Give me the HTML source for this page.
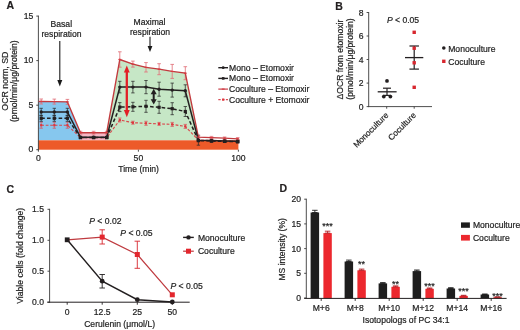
<!DOCTYPE html>
<html><head><meta charset="utf-8"><style>
html,body{margin:0;padding:0;background:#fff;}
svg{display:block;font-family:"Liberation Sans", sans-serif;will-change:transform;}
text{stroke:#222;stroke-width:0.2px;}
</style></head><body>
<svg width="520" height="330" viewBox="0 0 520 330">
<rect width="520" height="330" fill="#fff"/>
<text x="6.50" y="9.40" font-size="10.5" text-anchor="start" fill="#231f20" font-weight="bold">A</text>
<polygon points="38.40,101.50 41.20,101.50 54.30,101.60 67.40,101.90 80.50,132.70 80.50,140.30 38.40,140.30" fill="#86c7ee" />
<polygon points="80.50,132.70 93.60,132.70 106.70,132.70 106.70,140.30 80.50,140.30" fill="#f4b6c4" />
<polygon points="106.70,132.70 119.80,59.50 132.90,64.10 146.00,67.30 159.10,69.20 172.20,71.40 185.30,73.20 198.40,137.10 198.40,140.30 106.70,140.30" fill="#c6e7c6" />
<rect x="38.40" y="140.30" width="200.00" height="9.40" fill="#ed5a29"/>
<line x1="38.40" y1="15.60" x2="38.40" y2="150.20" stroke="#3a3a3a" stroke-width="0.9" />
<line x1="36.30" y1="16.10" x2="38.40" y2="16.10" stroke="#3a3a3a" stroke-width="0.9" />
<text x="33.20" y="18.70" font-size="8.6" text-anchor="end" fill="#222222" >15</text>
<line x1="36.30" y1="60.60" x2="38.40" y2="60.60" stroke="#3a3a3a" stroke-width="0.9" />
<text x="33.20" y="63.20" font-size="8.6" text-anchor="end" fill="#222222" >10</text>
<line x1="36.30" y1="105.20" x2="38.40" y2="105.20" stroke="#3a3a3a" stroke-width="0.9" />
<text x="33.20" y="107.80" font-size="8.6" text-anchor="end" fill="#222222" >5</text>
<line x1="36.30" y1="149.70" x2="38.40" y2="149.70" stroke="#3a3a3a" stroke-width="0.9" />
<text x="33.20" y="152.30" font-size="8.6" text-anchor="end" fill="#222222" >0</text>
<line x1="38.40" y1="149.70" x2="38.40" y2="151.70" stroke="#3a3a3a" stroke-width="0.9" />
<text x="38.40" y="160.60" font-size="8.6" text-anchor="middle" fill="#222222" >0</text>
<line x1="138.40" y1="149.70" x2="138.40" y2="151.70" stroke="#3a3a3a" stroke-width="0.9" />
<text x="138.40" y="160.60" font-size="8.6" text-anchor="middle" fill="#222222" >50</text>
<line x1="238.40" y1="149.70" x2="238.40" y2="151.70" stroke="#3a3a3a" stroke-width="0.9" />
<text x="238.40" y="160.60" font-size="8.6" text-anchor="middle" fill="#222222" >100</text>
<text x="138.60" y="172.40" font-size="8.6" text-anchor="middle" fill="#222222" >Time (min)</text>
<text transform="translate(7.5,81.1) rotate(-90)" font-size="8.8" text-anchor="middle" fill="#222222">OCR norm, SD</text>
<text transform="translate(17.3,81.2) rotate(-90)" font-size="8.65" text-anchor="middle" fill="#222222">(pmol/min/μg/protein)</text>
<line x1="41.20" y1="122.20" x2="41.20" y2="128.20" stroke="#d9545c" stroke-width="0.75" />
<line x1="39.50" y1="122.20" x2="42.90" y2="122.20" stroke="#d9545c" stroke-width="0.75" />
<line x1="39.50" y1="128.20" x2="42.90" y2="128.20" stroke="#d9545c" stroke-width="0.75" />
<line x1="54.30" y1="122.20" x2="54.30" y2="128.20" stroke="#d9545c" stroke-width="0.75" />
<line x1="52.60" y1="122.20" x2="56.00" y2="122.20" stroke="#d9545c" stroke-width="0.75" />
<line x1="52.60" y1="128.20" x2="56.00" y2="128.20" stroke="#d9545c" stroke-width="0.75" />
<line x1="67.40" y1="122.20" x2="67.40" y2="128.20" stroke="#d9545c" stroke-width="0.75" />
<line x1="65.70" y1="122.20" x2="69.10" y2="122.20" stroke="#d9545c" stroke-width="0.75" />
<line x1="65.70" y1="128.20" x2="69.10" y2="128.20" stroke="#d9545c" stroke-width="0.75" />
<line x1="80.50" y1="136.60" x2="80.50" y2="138.60" stroke="#d9545c" stroke-width="0.75" />
<line x1="78.80" y1="136.60" x2="82.20" y2="136.60" stroke="#d9545c" stroke-width="0.75" />
<line x1="78.80" y1="138.60" x2="82.20" y2="138.60" stroke="#d9545c" stroke-width="0.75" />
<line x1="93.60" y1="136.60" x2="93.60" y2="138.60" stroke="#d9545c" stroke-width="0.75" />
<line x1="91.90" y1="136.60" x2="95.30" y2="136.60" stroke="#d9545c" stroke-width="0.75" />
<line x1="91.90" y1="138.60" x2="95.30" y2="138.60" stroke="#d9545c" stroke-width="0.75" />
<line x1="106.70" y1="136.60" x2="106.70" y2="138.60" stroke="#d9545c" stroke-width="0.75" />
<line x1="105.00" y1="136.60" x2="108.40" y2="136.60" stroke="#d9545c" stroke-width="0.75" />
<line x1="105.00" y1="138.60" x2="108.40" y2="138.60" stroke="#d9545c" stroke-width="0.75" />
<line x1="119.80" y1="118.00" x2="119.80" y2="122.00" stroke="#d9545c" stroke-width="0.75" />
<line x1="118.10" y1="118.00" x2="121.50" y2="118.00" stroke="#d9545c" stroke-width="0.75" />
<line x1="118.10" y1="122.00" x2="121.50" y2="122.00" stroke="#d9545c" stroke-width="0.75" />
<line x1="132.90" y1="121.20" x2="132.90" y2="124.20" stroke="#d9545c" stroke-width="0.75" />
<line x1="131.20" y1="121.20" x2="134.60" y2="121.20" stroke="#d9545c" stroke-width="0.75" />
<line x1="131.20" y1="124.20" x2="134.60" y2="124.20" stroke="#d9545c" stroke-width="0.75" />
<line x1="146.00" y1="121.30" x2="146.00" y2="125.30" stroke="#d9545c" stroke-width="0.75" />
<line x1="144.30" y1="121.30" x2="147.70" y2="121.30" stroke="#d9545c" stroke-width="0.75" />
<line x1="144.30" y1="125.30" x2="147.70" y2="125.30" stroke="#d9545c" stroke-width="0.75" />
<line x1="159.10" y1="122.40" x2="159.10" y2="125.40" stroke="#d9545c" stroke-width="0.75" />
<line x1="157.40" y1="122.40" x2="160.80" y2="122.40" stroke="#d9545c" stroke-width="0.75" />
<line x1="157.40" y1="125.40" x2="160.80" y2="125.40" stroke="#d9545c" stroke-width="0.75" />
<line x1="172.20" y1="122.40" x2="172.20" y2="126.40" stroke="#d9545c" stroke-width="0.75" />
<line x1="170.50" y1="122.40" x2="173.90" y2="122.40" stroke="#d9545c" stroke-width="0.75" />
<line x1="170.50" y1="126.40" x2="173.90" y2="126.40" stroke="#d9545c" stroke-width="0.75" />
<line x1="185.30" y1="124.40" x2="185.30" y2="128.40" stroke="#d9545c" stroke-width="0.75" />
<line x1="183.60" y1="124.40" x2="187.00" y2="124.40" stroke="#d9545c" stroke-width="0.75" />
<line x1="183.60" y1="128.40" x2="187.00" y2="128.40" stroke="#d9545c" stroke-width="0.75" />
<line x1="198.40" y1="139.00" x2="198.40" y2="141.00" stroke="#d9545c" stroke-width="0.75" />
<line x1="196.70" y1="139.00" x2="200.10" y2="139.00" stroke="#d9545c" stroke-width="0.75" />
<line x1="196.70" y1="141.00" x2="200.10" y2="141.00" stroke="#d9545c" stroke-width="0.75" />
<line x1="211.50" y1="139.50" x2="211.50" y2="141.50" stroke="#d9545c" stroke-width="0.75" />
<line x1="209.80" y1="139.50" x2="213.20" y2="139.50" stroke="#d9545c" stroke-width="0.75" />
<line x1="209.80" y1="141.50" x2="213.20" y2="141.50" stroke="#d9545c" stroke-width="0.75" />
<line x1="224.60" y1="140.00" x2="224.60" y2="142.00" stroke="#d9545c" stroke-width="0.75" />
<line x1="222.90" y1="140.00" x2="226.30" y2="140.00" stroke="#d9545c" stroke-width="0.75" />
<line x1="222.90" y1="142.00" x2="226.30" y2="142.00" stroke="#d9545c" stroke-width="0.75" />
<line x1="237.70" y1="140.30" x2="237.70" y2="142.30" stroke="#d9545c" stroke-width="0.75" />
<line x1="236.00" y1="140.30" x2="239.40" y2="140.30" stroke="#d9545c" stroke-width="0.75" />
<line x1="236.00" y1="142.30" x2="239.40" y2="142.30" stroke="#d9545c" stroke-width="0.75" />
<line x1="41.20" y1="115.30" x2="41.20" y2="121.30" stroke="#2a2a2a" stroke-width="0.75" />
<line x1="39.50" y1="115.30" x2="42.90" y2="115.30" stroke="#2a2a2a" stroke-width="0.75" />
<line x1="39.50" y1="121.30" x2="42.90" y2="121.30" stroke="#2a2a2a" stroke-width="0.75" />
<line x1="54.30" y1="115.30" x2="54.30" y2="121.30" stroke="#2a2a2a" stroke-width="0.75" />
<line x1="52.60" y1="115.30" x2="56.00" y2="115.30" stroke="#2a2a2a" stroke-width="0.75" />
<line x1="52.60" y1="121.30" x2="56.00" y2="121.30" stroke="#2a2a2a" stroke-width="0.75" />
<line x1="67.40" y1="115.30" x2="67.40" y2="121.30" stroke="#2a2a2a" stroke-width="0.75" />
<line x1="65.70" y1="115.30" x2="69.10" y2="115.30" stroke="#2a2a2a" stroke-width="0.75" />
<line x1="65.70" y1="121.30" x2="69.10" y2="121.30" stroke="#2a2a2a" stroke-width="0.75" />
<line x1="80.50" y1="136.60" x2="80.50" y2="138.60" stroke="#2a2a2a" stroke-width="0.75" />
<line x1="78.80" y1="136.60" x2="82.20" y2="136.60" stroke="#2a2a2a" stroke-width="0.75" />
<line x1="78.80" y1="138.60" x2="82.20" y2="138.60" stroke="#2a2a2a" stroke-width="0.75" />
<line x1="93.60" y1="136.60" x2="93.60" y2="138.60" stroke="#2a2a2a" stroke-width="0.75" />
<line x1="91.90" y1="136.60" x2="95.30" y2="136.60" stroke="#2a2a2a" stroke-width="0.75" />
<line x1="91.90" y1="138.60" x2="95.30" y2="138.60" stroke="#2a2a2a" stroke-width="0.75" />
<line x1="106.70" y1="136.60" x2="106.70" y2="138.60" stroke="#2a2a2a" stroke-width="0.75" />
<line x1="105.00" y1="136.60" x2="108.40" y2="136.60" stroke="#2a2a2a" stroke-width="0.75" />
<line x1="105.00" y1="138.60" x2="108.40" y2="138.60" stroke="#2a2a2a" stroke-width="0.75" />
<line x1="119.80" y1="102.60" x2="119.80" y2="111.60" stroke="#2a2a2a" stroke-width="0.75" />
<line x1="118.10" y1="102.60" x2="121.50" y2="102.60" stroke="#2a2a2a" stroke-width="0.75" />
<line x1="118.10" y1="111.60" x2="121.50" y2="111.60" stroke="#2a2a2a" stroke-width="0.75" />
<line x1="132.90" y1="102.30" x2="132.90" y2="111.30" stroke="#2a2a2a" stroke-width="0.75" />
<line x1="131.20" y1="102.30" x2="134.60" y2="102.30" stroke="#2a2a2a" stroke-width="0.75" />
<line x1="131.20" y1="111.30" x2="134.60" y2="111.30" stroke="#2a2a2a" stroke-width="0.75" />
<line x1="146.00" y1="100.30" x2="146.00" y2="112.30" stroke="#2a2a2a" stroke-width="0.75" />
<line x1="144.30" y1="100.30" x2="147.70" y2="100.30" stroke="#2a2a2a" stroke-width="0.75" />
<line x1="144.30" y1="112.30" x2="147.70" y2="112.30" stroke="#2a2a2a" stroke-width="0.75" />
<line x1="159.10" y1="101.30" x2="159.10" y2="113.30" stroke="#2a2a2a" stroke-width="0.75" />
<line x1="157.40" y1="101.30" x2="160.80" y2="101.30" stroke="#2a2a2a" stroke-width="0.75" />
<line x1="157.40" y1="113.30" x2="160.80" y2="113.30" stroke="#2a2a2a" stroke-width="0.75" />
<line x1="172.20" y1="102.70" x2="172.20" y2="114.70" stroke="#2a2a2a" stroke-width="0.75" />
<line x1="170.50" y1="102.70" x2="173.90" y2="102.70" stroke="#2a2a2a" stroke-width="0.75" />
<line x1="170.50" y1="114.70" x2="173.90" y2="114.70" stroke="#2a2a2a" stroke-width="0.75" />
<line x1="185.30" y1="106.50" x2="185.30" y2="116.50" stroke="#2a2a2a" stroke-width="0.75" />
<line x1="183.60" y1="106.50" x2="187.00" y2="106.50" stroke="#2a2a2a" stroke-width="0.75" />
<line x1="183.60" y1="116.50" x2="187.00" y2="116.50" stroke="#2a2a2a" stroke-width="0.75" />
<line x1="198.40" y1="139.60" x2="198.40" y2="141.60" stroke="#2a2a2a" stroke-width="0.75" />
<line x1="196.70" y1="139.60" x2="200.10" y2="139.60" stroke="#2a2a2a" stroke-width="0.75" />
<line x1="196.70" y1="141.60" x2="200.10" y2="141.60" stroke="#2a2a2a" stroke-width="0.75" />
<line x1="211.50" y1="140.00" x2="211.50" y2="142.00" stroke="#2a2a2a" stroke-width="0.75" />
<line x1="209.80" y1="140.00" x2="213.20" y2="140.00" stroke="#2a2a2a" stroke-width="0.75" />
<line x1="209.80" y1="142.00" x2="213.20" y2="142.00" stroke="#2a2a2a" stroke-width="0.75" />
<line x1="224.60" y1="140.40" x2="224.60" y2="142.40" stroke="#2a2a2a" stroke-width="0.75" />
<line x1="222.90" y1="140.40" x2="226.30" y2="140.40" stroke="#2a2a2a" stroke-width="0.75" />
<line x1="222.90" y1="142.40" x2="226.30" y2="142.40" stroke="#2a2a2a" stroke-width="0.75" />
<line x1="237.70" y1="140.70" x2="237.70" y2="142.70" stroke="#2a2a2a" stroke-width="0.75" />
<line x1="236.00" y1="140.70" x2="239.40" y2="140.70" stroke="#2a2a2a" stroke-width="0.75" />
<line x1="236.00" y1="142.70" x2="239.40" y2="142.70" stroke="#2a2a2a" stroke-width="0.75" />
<line x1="41.20" y1="108.30" x2="41.20" y2="115.70" stroke="#2a2a2a" stroke-width="0.75" />
<line x1="39.50" y1="108.30" x2="42.90" y2="108.30" stroke="#2a2a2a" stroke-width="0.75" />
<line x1="39.50" y1="115.70" x2="42.90" y2="115.70" stroke="#2a2a2a" stroke-width="0.75" />
<line x1="54.30" y1="108.30" x2="54.30" y2="115.70" stroke="#2a2a2a" stroke-width="0.75" />
<line x1="52.60" y1="108.30" x2="56.00" y2="108.30" stroke="#2a2a2a" stroke-width="0.75" />
<line x1="52.60" y1="115.70" x2="56.00" y2="115.70" stroke="#2a2a2a" stroke-width="0.75" />
<line x1="67.40" y1="108.30" x2="67.40" y2="115.70" stroke="#2a2a2a" stroke-width="0.75" />
<line x1="65.70" y1="108.30" x2="69.10" y2="108.30" stroke="#2a2a2a" stroke-width="0.75" />
<line x1="65.70" y1="115.70" x2="69.10" y2="115.70" stroke="#2a2a2a" stroke-width="0.75" />
<line x1="80.50" y1="136.30" x2="80.50" y2="138.30" stroke="#2a2a2a" stroke-width="0.75" />
<line x1="78.80" y1="136.30" x2="82.20" y2="136.30" stroke="#2a2a2a" stroke-width="0.75" />
<line x1="78.80" y1="138.30" x2="82.20" y2="138.30" stroke="#2a2a2a" stroke-width="0.75" />
<line x1="93.60" y1="136.30" x2="93.60" y2="138.30" stroke="#2a2a2a" stroke-width="0.75" />
<line x1="91.90" y1="136.30" x2="95.30" y2="136.30" stroke="#2a2a2a" stroke-width="0.75" />
<line x1="91.90" y1="138.30" x2="95.30" y2="138.30" stroke="#2a2a2a" stroke-width="0.75" />
<line x1="106.70" y1="136.30" x2="106.70" y2="138.30" stroke="#2a2a2a" stroke-width="0.75" />
<line x1="105.00" y1="136.30" x2="108.40" y2="136.30" stroke="#2a2a2a" stroke-width="0.75" />
<line x1="105.00" y1="138.30" x2="108.40" y2="138.30" stroke="#2a2a2a" stroke-width="0.75" />
<line x1="119.80" y1="81.30" x2="119.80" y2="92.90" stroke="#2a2a2a" stroke-width="0.75" />
<line x1="118.10" y1="81.30" x2="121.50" y2="81.30" stroke="#2a2a2a" stroke-width="0.75" />
<line x1="118.10" y1="92.90" x2="121.50" y2="92.90" stroke="#2a2a2a" stroke-width="0.75" />
<line x1="132.90" y1="81.30" x2="132.90" y2="92.90" stroke="#2a2a2a" stroke-width="0.75" />
<line x1="131.20" y1="81.30" x2="134.60" y2="81.30" stroke="#2a2a2a" stroke-width="0.75" />
<line x1="131.20" y1="92.90" x2="134.60" y2="92.90" stroke="#2a2a2a" stroke-width="0.75" />
<line x1="146.00" y1="80.50" x2="146.00" y2="93.70" stroke="#2a2a2a" stroke-width="0.75" />
<line x1="144.30" y1="80.50" x2="147.70" y2="80.50" stroke="#2a2a2a" stroke-width="0.75" />
<line x1="144.30" y1="93.70" x2="147.70" y2="93.70" stroke="#2a2a2a" stroke-width="0.75" />
<line x1="159.10" y1="82.20" x2="159.10" y2="96.20" stroke="#2a2a2a" stroke-width="0.75" />
<line x1="157.40" y1="82.20" x2="160.80" y2="82.20" stroke="#2a2a2a" stroke-width="0.75" />
<line x1="157.40" y1="96.20" x2="160.80" y2="96.20" stroke="#2a2a2a" stroke-width="0.75" />
<line x1="172.20" y1="83.10" x2="172.20" y2="97.10" stroke="#2a2a2a" stroke-width="0.75" />
<line x1="170.50" y1="83.10" x2="173.90" y2="83.10" stroke="#2a2a2a" stroke-width="0.75" />
<line x1="170.50" y1="97.10" x2="173.90" y2="97.10" stroke="#2a2a2a" stroke-width="0.75" />
<line x1="185.30" y1="84.80" x2="185.30" y2="96.80" stroke="#2a2a2a" stroke-width="0.75" />
<line x1="183.60" y1="84.80" x2="187.00" y2="84.80" stroke="#2a2a2a" stroke-width="0.75" />
<line x1="183.60" y1="96.80" x2="187.00" y2="96.80" stroke="#2a2a2a" stroke-width="0.75" />
<line x1="198.40" y1="135.20" x2="198.40" y2="145.20" stroke="#2a2a2a" stroke-width="0.75" />
<line x1="196.70" y1="135.20" x2="200.10" y2="135.20" stroke="#2a2a2a" stroke-width="0.75" />
<line x1="196.70" y1="145.20" x2="200.10" y2="145.20" stroke="#2a2a2a" stroke-width="0.75" />
<line x1="211.50" y1="139.10" x2="211.50" y2="142.10" stroke="#2a2a2a" stroke-width="0.75" />
<line x1="209.80" y1="139.10" x2="213.20" y2="139.10" stroke="#2a2a2a" stroke-width="0.75" />
<line x1="209.80" y1="142.10" x2="213.20" y2="142.10" stroke="#2a2a2a" stroke-width="0.75" />
<line x1="224.60" y1="139.50" x2="224.60" y2="142.50" stroke="#2a2a2a" stroke-width="0.75" />
<line x1="222.90" y1="139.50" x2="226.30" y2="139.50" stroke="#2a2a2a" stroke-width="0.75" />
<line x1="222.90" y1="142.50" x2="226.30" y2="142.50" stroke="#2a2a2a" stroke-width="0.75" />
<line x1="237.70" y1="139.80" x2="237.70" y2="142.80" stroke="#2a2a2a" stroke-width="0.75" />
<line x1="236.00" y1="139.80" x2="239.40" y2="139.80" stroke="#2a2a2a" stroke-width="0.75" />
<line x1="236.00" y1="142.80" x2="239.40" y2="142.80" stroke="#2a2a2a" stroke-width="0.75" />
<line x1="41.20" y1="99.00" x2="41.20" y2="104.00" stroke="#e2737b" stroke-width="0.85" />
<line x1="39.40" y1="99.00" x2="43.00" y2="99.00" stroke="#e2737b" stroke-width="0.85" />
<line x1="39.40" y1="104.00" x2="43.00" y2="104.00" stroke="#e2737b" stroke-width="0.85" />
<line x1="54.30" y1="99.10" x2="54.30" y2="104.10" stroke="#e2737b" stroke-width="0.85" />
<line x1="52.50" y1="99.10" x2="56.10" y2="99.10" stroke="#e2737b" stroke-width="0.85" />
<line x1="52.50" y1="104.10" x2="56.10" y2="104.10" stroke="#e2737b" stroke-width="0.85" />
<line x1="67.40" y1="99.40" x2="67.40" y2="104.40" stroke="#e2737b" stroke-width="0.85" />
<line x1="65.60" y1="99.40" x2="69.20" y2="99.40" stroke="#e2737b" stroke-width="0.85" />
<line x1="65.60" y1="104.40" x2="69.20" y2="104.40" stroke="#e2737b" stroke-width="0.85" />
<line x1="80.50" y1="131.30" x2="80.50" y2="134.10" stroke="#e2737b" stroke-width="0.85" />
<line x1="78.70" y1="131.30" x2="82.30" y2="131.30" stroke="#e2737b" stroke-width="0.85" />
<line x1="78.70" y1="134.10" x2="82.30" y2="134.10" stroke="#e2737b" stroke-width="0.85" />
<line x1="93.60" y1="131.30" x2="93.60" y2="134.10" stroke="#e2737b" stroke-width="0.85" />
<line x1="91.80" y1="131.30" x2="95.40" y2="131.30" stroke="#e2737b" stroke-width="0.85" />
<line x1="91.80" y1="134.10" x2="95.40" y2="134.10" stroke="#e2737b" stroke-width="0.85" />
<line x1="106.70" y1="131.30" x2="106.70" y2="134.10" stroke="#e2737b" stroke-width="0.85" />
<line x1="104.90" y1="131.30" x2="108.50" y2="131.30" stroke="#e2737b" stroke-width="0.85" />
<line x1="104.90" y1="134.10" x2="108.50" y2="134.10" stroke="#e2737b" stroke-width="0.85" />
<line x1="119.80" y1="51.80" x2="119.80" y2="67.20" stroke="#e2737b" stroke-width="0.85" />
<line x1="118.00" y1="51.80" x2="121.60" y2="51.80" stroke="#e2737b" stroke-width="0.85" />
<line x1="118.00" y1="67.20" x2="121.60" y2="67.20" stroke="#e2737b" stroke-width="0.85" />
<line x1="132.90" y1="61.10" x2="132.90" y2="67.10" stroke="#e2737b" stroke-width="0.85" />
<line x1="131.10" y1="61.10" x2="134.70" y2="61.10" stroke="#e2737b" stroke-width="0.85" />
<line x1="131.10" y1="67.10" x2="134.70" y2="67.10" stroke="#e2737b" stroke-width="0.85" />
<line x1="146.00" y1="62.60" x2="146.00" y2="72.00" stroke="#e2737b" stroke-width="0.85" />
<line x1="144.20" y1="62.60" x2="147.80" y2="62.60" stroke="#e2737b" stroke-width="0.85" />
<line x1="144.20" y1="72.00" x2="147.80" y2="72.00" stroke="#e2737b" stroke-width="0.85" />
<line x1="159.10" y1="63.70" x2="159.10" y2="74.70" stroke="#e2737b" stroke-width="0.85" />
<line x1="157.30" y1="63.70" x2="160.90" y2="63.70" stroke="#e2737b" stroke-width="0.85" />
<line x1="157.30" y1="74.70" x2="160.90" y2="74.70" stroke="#e2737b" stroke-width="0.85" />
<line x1="172.20" y1="64.40" x2="172.20" y2="78.40" stroke="#e2737b" stroke-width="0.85" />
<line x1="170.40" y1="64.40" x2="174.00" y2="64.40" stroke="#e2737b" stroke-width="0.85" />
<line x1="170.40" y1="78.40" x2="174.00" y2="78.40" stroke="#e2737b" stroke-width="0.85" />
<line x1="185.30" y1="66.70" x2="185.30" y2="79.70" stroke="#e2737b" stroke-width="0.85" />
<line x1="183.50" y1="66.70" x2="187.10" y2="66.70" stroke="#e2737b" stroke-width="0.85" />
<line x1="183.50" y1="79.70" x2="187.10" y2="79.70" stroke="#e2737b" stroke-width="0.85" />
<line x1="198.40" y1="135.90" x2="198.40" y2="138.30" stroke="#e2737b" stroke-width="0.85" />
<line x1="196.60" y1="135.90" x2="200.20" y2="135.90" stroke="#e2737b" stroke-width="0.85" />
<line x1="196.60" y1="138.30" x2="200.20" y2="138.30" stroke="#e2737b" stroke-width="0.85" />
<line x1="211.50" y1="136.40" x2="211.50" y2="138.80" stroke="#e2737b" stroke-width="0.85" />
<line x1="209.70" y1="136.40" x2="213.30" y2="136.40" stroke="#e2737b" stroke-width="0.85" />
<line x1="209.70" y1="138.80" x2="213.30" y2="138.80" stroke="#e2737b" stroke-width="0.85" />
<line x1="224.60" y1="137.00" x2="224.60" y2="139.40" stroke="#e2737b" stroke-width="0.85" />
<line x1="222.80" y1="137.00" x2="226.40" y2="137.00" stroke="#e2737b" stroke-width="0.85" />
<line x1="222.80" y1="139.40" x2="226.40" y2="139.40" stroke="#e2737b" stroke-width="0.85" />
<line x1="237.70" y1="137.60" x2="237.70" y2="140.00" stroke="#e2737b" stroke-width="0.85" />
<line x1="235.90" y1="137.60" x2="239.50" y2="137.60" stroke="#e2737b" stroke-width="0.85" />
<line x1="235.90" y1="140.00" x2="239.50" y2="140.00" stroke="#e2737b" stroke-width="0.85" />
<polyline points="41.20,125.20 54.30,125.20 67.40,125.20 80.50,137.60 93.60,137.60 106.70,137.60 119.80,120.00 132.90,122.70 146.00,123.30 159.10,123.90 172.20,124.40 185.30,126.40 198.40,140.00 211.50,140.50 224.60,141.00 237.70,141.30" fill="none" stroke="#d9484c" stroke-width="1.15" stroke-dasharray="2.8,1.7"/>
<polyline points="38.60,101.50 41.20,101.50 54.30,101.60 67.40,101.90 80.50,132.70 93.60,132.70 106.70,132.70 119.80,59.50 132.90,64.10 146.00,67.30 159.10,69.20 172.20,71.40 185.30,73.20 198.40,137.10 211.50,137.60 224.60,138.20 237.70,138.80" fill="none" stroke="#c23a3e" stroke-width="1.35" />
<polyline points="41.20,118.30 54.30,118.30 67.40,118.30 80.50,137.60 93.60,137.60 106.70,137.60 119.80,107.10 132.90,106.80 146.00,106.30 159.10,107.30 172.20,108.70 185.30,111.50 198.40,140.60 211.50,141.00 224.60,141.40 237.70,141.70" fill="none" stroke="#231f20" stroke-width="1.5" stroke-dasharray="3.6,2.2"/>
<polyline points="41.20,112.00 54.30,112.00 67.40,112.00 80.50,137.30 93.60,137.30 106.70,137.30 119.80,87.10 132.90,87.10 146.00,87.10 159.10,89.20 172.20,90.10 185.30,90.80 198.40,140.20 211.50,140.60 224.60,141.00 237.70,141.30" fill="none" stroke="#231f20" stroke-width="1.5" />
<rect x="40.10" y="124.10" width="2.20" height="2.20" fill="#e0353c"/>
<rect x="39.60" y="116.70" width="3.20" height="3.20" fill="#231f20"/>
<circle cx="41.20" cy="112.00" r="1.7" fill="#231f20"/>
<rect x="39.80" y="100.90" width="2.80" height="1.20" fill="#d83a40"/>
<rect x="53.20" y="124.10" width="2.20" height="2.20" fill="#e0353c"/>
<rect x="52.70" y="116.70" width="3.20" height="3.20" fill="#231f20"/>
<circle cx="54.30" cy="112.00" r="1.7" fill="#231f20"/>
<rect x="52.90" y="101.00" width="2.80" height="1.20" fill="#d83a40"/>
<rect x="66.30" y="124.10" width="2.20" height="2.20" fill="#e0353c"/>
<rect x="65.80" y="116.70" width="3.20" height="3.20" fill="#231f20"/>
<circle cx="67.40" cy="112.00" r="1.7" fill="#231f20"/>
<rect x="66.00" y="101.30" width="2.80" height="1.20" fill="#d83a40"/>
<rect x="79.40" y="136.50" width="2.20" height="2.20" fill="#e0353c"/>
<rect x="78.90" y="136.00" width="3.20" height="3.20" fill="#231f20"/>
<circle cx="80.50" cy="137.30" r="1.7" fill="#231f20"/>
<rect x="79.10" y="132.10" width="2.80" height="1.20" fill="#d83a40"/>
<rect x="92.50" y="136.50" width="2.20" height="2.20" fill="#e0353c"/>
<rect x="92.00" y="136.00" width="3.20" height="3.20" fill="#231f20"/>
<circle cx="93.60" cy="137.30" r="1.7" fill="#231f20"/>
<rect x="92.20" y="132.10" width="2.80" height="1.20" fill="#d83a40"/>
<rect x="105.60" y="136.50" width="2.20" height="2.20" fill="#e0353c"/>
<rect x="105.10" y="136.00" width="3.20" height="3.20" fill="#231f20"/>
<circle cx="106.70" cy="137.30" r="1.7" fill="#231f20"/>
<rect x="105.30" y="132.10" width="2.80" height="1.20" fill="#d83a40"/>
<rect x="118.70" y="118.90" width="2.20" height="2.20" fill="#e0353c"/>
<rect x="118.20" y="105.50" width="3.20" height="3.20" fill="#231f20"/>
<circle cx="119.80" cy="87.10" r="1.7" fill="#231f20"/>
<rect x="118.40" y="58.90" width="2.80" height="1.20" fill="#d83a40"/>
<rect x="131.80" y="121.60" width="2.20" height="2.20" fill="#e0353c"/>
<rect x="131.30" y="105.20" width="3.20" height="3.20" fill="#231f20"/>
<circle cx="132.90" cy="87.10" r="1.7" fill="#231f20"/>
<rect x="131.50" y="63.50" width="2.80" height="1.20" fill="#d83a40"/>
<rect x="144.90" y="122.20" width="2.20" height="2.20" fill="#e0353c"/>
<rect x="144.40" y="104.70" width="3.20" height="3.20" fill="#231f20"/>
<circle cx="146.00" cy="87.10" r="1.7" fill="#231f20"/>
<rect x="144.60" y="66.70" width="2.80" height="1.20" fill="#d83a40"/>
<rect x="158.00" y="122.80" width="2.20" height="2.20" fill="#e0353c"/>
<rect x="157.50" y="105.70" width="3.20" height="3.20" fill="#231f20"/>
<circle cx="159.10" cy="89.20" r="1.7" fill="#231f20"/>
<rect x="157.70" y="68.60" width="2.80" height="1.20" fill="#d83a40"/>
<rect x="171.10" y="123.30" width="2.20" height="2.20" fill="#e0353c"/>
<rect x="170.60" y="107.10" width="3.20" height="3.20" fill="#231f20"/>
<circle cx="172.20" cy="90.10" r="1.7" fill="#231f20"/>
<rect x="170.80" y="70.80" width="2.80" height="1.20" fill="#d83a40"/>
<rect x="184.20" y="125.30" width="2.20" height="2.20" fill="#e0353c"/>
<rect x="183.70" y="109.90" width="3.20" height="3.20" fill="#231f20"/>
<circle cx="185.30" cy="90.80" r="1.7" fill="#231f20"/>
<rect x="183.90" y="72.60" width="2.80" height="1.20" fill="#d83a40"/>
<rect x="197.30" y="138.90" width="2.20" height="2.20" fill="#e0353c"/>
<rect x="196.80" y="139.00" width="3.20" height="3.20" fill="#231f20"/>
<circle cx="198.40" cy="140.20" r="1.7" fill="#231f20"/>
<rect x="197.00" y="136.50" width="2.80" height="1.20" fill="#d83a40"/>
<rect x="210.40" y="139.40" width="2.20" height="2.20" fill="#e0353c"/>
<rect x="209.90" y="139.40" width="3.20" height="3.20" fill="#231f20"/>
<circle cx="211.50" cy="140.60" r="1.7" fill="#231f20"/>
<rect x="210.10" y="137.00" width="2.80" height="1.20" fill="#d83a40"/>
<rect x="223.50" y="139.90" width="2.20" height="2.20" fill="#e0353c"/>
<rect x="223.00" y="139.80" width="3.20" height="3.20" fill="#231f20"/>
<circle cx="224.60" cy="141.00" r="1.7" fill="#231f20"/>
<rect x="223.20" y="137.60" width="2.80" height="1.20" fill="#d83a40"/>
<rect x="236.60" y="140.20" width="2.20" height="2.20" fill="#e0353c"/>
<rect x="236.10" y="140.10" width="3.20" height="3.20" fill="#231f20"/>
<circle cx="237.70" cy="141.30" r="1.7" fill="#231f20"/>
<rect x="236.30" y="138.20" width="2.80" height="1.20" fill="#d83a40"/>
<line x1="59.80" y1="41.00" x2="59.80" y2="81.00" stroke="#1a1a1a" stroke-width="1.1" />
<polygon points="57.30,80.00 62.30,80.00 59.80,86.50" fill="#1a1a1a" />
<line x1="150.00" y1="36.80" x2="150.00" y2="47.00" stroke="#1a1a1a" stroke-width="1.1" />
<polygon points="147.60,46.00 152.40,46.00 150.00,52.00" fill="#1a1a1a" />
<line x1="126.80" y1="71.00" x2="126.80" y2="111.00" stroke="#e21f26" stroke-width="2.3" />
<polygon points="123.90,72.50 129.70,72.50 126.80,65.50" fill="#e21f26" />
<polygon points="123.90,110.00 129.70,110.00 126.80,117.20" fill="#e21f26" />
<line x1="153.70" y1="92.00" x2="153.70" y2="101.00" stroke="#231f20" stroke-width="2.0" />
<polygon points="150.70,94.20 156.70,94.20 153.70,88.80" fill="#231f20" />
<polygon points="150.70,99.20 156.70,99.20 153.70,104.50" fill="#231f20" />
<text x="61.30" y="26.70" font-size="8.6" text-anchor="middle" fill="#222222" >Basal</text>
<text x="61.50" y="37.00" font-size="8.6" text-anchor="middle" fill="#222222" >respiration</text>
<text x="149.50" y="24.80" font-size="8.6" text-anchor="middle" fill="#222222" >Maximal</text>
<text x="150.00" y="34.90" font-size="8.6" text-anchor="middle" fill="#222222" >respiration</text>
<line x1="218.30" y1="67.70" x2="228.00" y2="67.70" stroke="#231f20" stroke-width="1.4" />
<circle cx="223.20" cy="67.70" r="1.4" fill="#231f20"/>
<text x="229.00" y="70.60" font-size="8.6" text-anchor="start" fill="#222222" >Mono – Etomoxir</text>
<line x1="218.30" y1="78.40" x2="228.00" y2="78.40" stroke="#231f20" stroke-width="1.4" />
<rect x="221.90" y="77.10" width="2.60" height="2.60" fill="#231f20"/>
<text x="229.00" y="81.30" font-size="8.6" text-anchor="start" fill="#222222" >Mono – Etomoxir</text>
<line x1="218.30" y1="89.10" x2="228.00" y2="89.10" stroke="#c8404a" stroke-width="1.2" />
<rect x="221.80" y="88.50" width="2.80" height="1.20" fill="#d83a40"/>
<text x="229.00" y="92.00" font-size="8.6" text-anchor="start" fill="#222222" >Coculture – Etomoxir</text>
<line x1="218.30" y1="99.60" x2="228.00" y2="99.60" stroke="#d8505a" stroke-width="1.2" stroke-dasharray="2.4,1.4"/>
<rect x="222.10" y="98.50" width="2.20" height="2.20" fill="#e0353c"/>
<text x="229.00" y="102.50" font-size="8.6" text-anchor="start" fill="#222222" >Coculture + Etomoxir</text>
<text x="335.20" y="9.80" font-size="10.5" text-anchor="start" fill="#231f20" font-weight="bold">B</text>
<line x1="368.70" y1="12.00" x2="368.70" y2="107.10" stroke="#3a3a3a" stroke-width="0.9" />
<line x1="366.60" y1="12.50" x2="368.70" y2="12.50" stroke="#3a3a3a" stroke-width="0.9" />
<text x="363.60" y="15.50" font-size="8.6" text-anchor="end" fill="#222222" >8</text>
<line x1="366.60" y1="36.00" x2="368.70" y2="36.00" stroke="#3a3a3a" stroke-width="0.9" />
<text x="363.60" y="39.00" font-size="8.6" text-anchor="end" fill="#222222" >6</text>
<line x1="366.60" y1="59.50" x2="368.70" y2="59.50" stroke="#3a3a3a" stroke-width="0.9" />
<text x="363.60" y="62.50" font-size="8.6" text-anchor="end" fill="#222222" >4</text>
<line x1="366.60" y1="83.10" x2="368.70" y2="83.10" stroke="#3a3a3a" stroke-width="0.9" />
<text x="363.60" y="86.10" font-size="8.6" text-anchor="end" fill="#222222" >2</text>
<line x1="366.60" y1="106.60" x2="368.70" y2="106.60" stroke="#3a3a3a" stroke-width="0.9" />
<text x="363.60" y="109.60" font-size="8.6" text-anchor="end" fill="#222222" >0</text>
<line x1="368.30" y1="106.60" x2="432.00" y2="106.60" stroke="#3a3a3a" stroke-width="0.9" />
<line x1="386.70" y1="106.60" x2="386.70" y2="108.70" stroke="#3a3a3a" stroke-width="0.9" />
<line x1="414.20" y1="106.60" x2="414.20" y2="108.70" stroke="#3a3a3a" stroke-width="0.9" />
<text transform="translate(389,115.8) rotate(-45)" font-size="8.3" text-anchor="end" fill="#222222">Monoculture</text>
<text transform="translate(416.5,115.8) rotate(-45)" font-size="8.3" text-anchor="end" fill="#222222">Coculture</text>
<text transform="translate(342.6,59.6) rotate(-90)" font-size="8.6" text-anchor="middle" fill="#222222">ΔOCR from etomoxir</text>
<text transform="translate(352.5,59) rotate(-90)" font-size="8.6" text-anchor="middle" fill="#222222">(pmol/min/μg/protein)</text>
<line x1="377.70" y1="91.80" x2="396.60" y2="91.80" stroke="#231f20" stroke-width="1.3" />
<line x1="387.00" y1="88.20" x2="387.00" y2="95.40" stroke="#231f20" stroke-width="1.2" />
<line x1="383.00" y1="88.20" x2="391.00" y2="88.20" stroke="#231f20" stroke-width="1.2" />
<line x1="383.00" y1="95.40" x2="391.00" y2="95.40" stroke="#231f20" stroke-width="1.2" />
<circle cx="387.00" cy="80.90" r="1.9" fill="#231f20"/>
<circle cx="383.80" cy="96.60" r="1.9" fill="#231f20"/>
<circle cx="390.40" cy="96.60" r="1.9" fill="#231f20"/>
<line x1="405.00" y1="57.60" x2="423.30" y2="57.60" stroke="#231f20" stroke-width="1.3" />
<line x1="414.20" y1="46.00" x2="414.20" y2="69.10" stroke="#231f20" stroke-width="1.2" />
<line x1="409.45" y1="46.00" x2="418.95" y2="46.00" stroke="#231f20" stroke-width="1.2" />
<line x1="409.45" y1="69.10" x2="418.95" y2="69.10" stroke="#231f20" stroke-width="1.2" />
<rect x="412.50" y="30.60" width="3.40" height="3.40" fill="#d7262e"/>
<rect x="412.50" y="46.50" width="3.40" height="3.40" fill="#d7262e"/>
<rect x="412.50" y="61.10" width="3.40" height="3.40" fill="#d7262e"/>
<rect x="412.50" y="85.60" width="3.40" height="3.40" fill="#d7262e"/>
<text x="386.9" y="22.6" font-size="8.6" fill="#222222"><tspan font-style="italic">P</tspan> &lt; 0.05</text>
<circle cx="443.80" cy="48.00" r="1.8" fill="#231f20"/>
<text x="448.20" y="51.80" font-size="8.6" text-anchor="start" fill="#222222" >Monoculture</text>
<rect x="442.10" y="59.60" width="3.40" height="3.40" fill="#d7262e"/>
<text x="448.20" y="64.50" font-size="8.6" text-anchor="start" fill="#222222" >Coculture</text>
<text x="6.50" y="192.60" font-size="10.5" text-anchor="start" fill="#231f20" font-weight="bold">C</text>
<line x1="49.60" y1="208.80" x2="49.60" y2="302.70" stroke="#3a3a3a" stroke-width="0.9" />
<line x1="47.50" y1="209.30" x2="49.60" y2="209.30" stroke="#3a3a3a" stroke-width="0.9" />
<text x="44.00" y="212.30" font-size="8.6" text-anchor="end" fill="#222222" >1.5</text>
<line x1="47.50" y1="240.30" x2="49.60" y2="240.30" stroke="#3a3a3a" stroke-width="0.9" />
<text x="44.00" y="243.30" font-size="8.6" text-anchor="end" fill="#222222" >1.0</text>
<line x1="47.50" y1="271.20" x2="49.60" y2="271.20" stroke="#3a3a3a" stroke-width="0.9" />
<text x="44.00" y="274.20" font-size="8.6" text-anchor="end" fill="#222222" >0.5</text>
<line x1="47.50" y1="302.20" x2="49.60" y2="302.20" stroke="#3a3a3a" stroke-width="0.9" />
<text x="44.00" y="305.20" font-size="8.6" text-anchor="end" fill="#222222" >0.0</text>
<line x1="47.30" y1="302.20" x2="189.70" y2="302.20" stroke="#231f20" stroke-width="1.0" />
<line x1="67.20" y1="302.20" x2="67.20" y2="304.70" stroke="#231f20" stroke-width="0.9" />
<text x="67.20" y="314.80" font-size="8.6" text-anchor="middle" fill="#222222" >0</text>
<line x1="102.20" y1="302.20" x2="102.20" y2="304.70" stroke="#231f20" stroke-width="0.9" />
<text x="102.20" y="314.80" font-size="8.6" text-anchor="middle" fill="#222222" >12.5</text>
<line x1="137.30" y1="302.20" x2="137.30" y2="304.70" stroke="#231f20" stroke-width="0.9" />
<text x="137.30" y="314.80" font-size="8.6" text-anchor="middle" fill="#222222" >25</text>
<line x1="172.30" y1="302.20" x2="172.30" y2="304.70" stroke="#231f20" stroke-width="0.9" />
<text x="172.30" y="314.80" font-size="8.6" text-anchor="middle" fill="#222222" >50</text>
<text x="119.60" y="327.30" font-size="8.6" text-anchor="middle" fill="#222222" >Cerulenin (μmol/L)</text>
<text transform="translate(22.8,255.8) rotate(-90)" font-size="8.6" text-anchor="middle" fill="#222222">Viable cells (fold change)</text>
<line x1="102.20" y1="229.80" x2="102.20" y2="244.00" stroke="#d7262e" stroke-width="0.9" />
<line x1="99.45" y1="229.80" x2="104.95" y2="229.80" stroke="#d7262e" stroke-width="0.9" />
<line x1="99.45" y1="244.00" x2="104.95" y2="244.00" stroke="#d7262e" stroke-width="0.9" />
<line x1="137.30" y1="241.20" x2="137.30" y2="268.30" stroke="#d7262e" stroke-width="0.9" />
<line x1="134.55" y1="241.20" x2="140.05" y2="241.20" stroke="#d7262e" stroke-width="0.9" />
<line x1="134.55" y1="268.30" x2="140.05" y2="268.30" stroke="#d7262e" stroke-width="0.9" />
<line x1="102.20" y1="274.50" x2="102.20" y2="288.00" stroke="#231f20" stroke-width="0.9" />
<line x1="99.45" y1="274.50" x2="104.95" y2="274.50" stroke="#231f20" stroke-width="0.9" />
<line x1="99.45" y1="288.00" x2="104.95" y2="288.00" stroke="#231f20" stroke-width="0.9" />
<polyline points="67.20,239.80 102.20,237.10 137.30,254.50 172.30,294.80" fill="none" stroke="#bf3a3f" stroke-width="1.2" />
<polyline points="67.20,239.80 102.20,281.20 137.30,299.70 172.30,302.00" fill="none" stroke="#231f20" stroke-width="1.4" />
<rect x="99.70" y="234.60" width="5.00" height="5.00" fill="#e3262d"/>
<rect x="134.80" y="252.00" width="5.00" height="5.00" fill="#e3262d"/>
<rect x="169.80" y="292.30" width="5.00" height="5.00" fill="#e3262d"/>
<circle cx="102.20" cy="281.20" r="2.4" fill="#231f20"/>
<circle cx="137.30" cy="299.70" r="2.4" fill="#231f20"/>
<circle cx="172.30" cy="302.00" r="2.4" fill="#231f20"/>
<rect x="64.80" y="237.40" width="4.80" height="4.80" fill="#231f20"/>
<text x="89.2" y="223.8" font-size="8.6" fill="#222222"><tspan font-style="italic">P</tspan> &lt; 0.02</text>
<text x="120.3" y="236.2" font-size="8.6" fill="#222222"><tspan font-style="italic">P</tspan> &lt; 0.05</text>
<text x="170.5" y="288.5" font-size="8.6" fill="#222222"><tspan font-style="italic">P</tspan> &lt; 0.05</text>
<line x1="183.10" y1="237.40" x2="193.80" y2="237.40" stroke="#231f20" stroke-width="1.4" />
<circle cx="188.50" cy="237.40" r="2.2" fill="#231f20"/>
<text x="197.90" y="240.90" font-size="8.6" text-anchor="start" fill="#222222" >Monoculture</text>
<line x1="183.10" y1="251.20" x2="193.80" y2="251.20" stroke="#bf3a3f" stroke-width="1.2" />
<rect x="186.00" y="248.70" width="5.00" height="5.00" fill="#e3262d"/>
<text x="197.90" y="254.40" font-size="8.6" text-anchor="start" fill="#222222" >Coculture</text>
<text x="279.60" y="192.30" font-size="10.5" text-anchor="start" fill="#231f20" font-weight="bold">D</text>
<line x1="306.30" y1="198.70" x2="306.30" y2="298.40" stroke="#3a3a3a" stroke-width="0.9" />
<line x1="304.20" y1="199.20" x2="306.30" y2="199.20" stroke="#3a3a3a" stroke-width="0.9" />
<text x="301.00" y="202.20" font-size="8.6" text-anchor="end" fill="#222222" >20</text>
<line x1="304.20" y1="223.90" x2="306.30" y2="223.90" stroke="#3a3a3a" stroke-width="0.9" />
<text x="301.00" y="226.90" font-size="8.6" text-anchor="end" fill="#222222" >15</text>
<line x1="304.20" y1="248.60" x2="306.30" y2="248.60" stroke="#3a3a3a" stroke-width="0.9" />
<text x="301.00" y="251.60" font-size="8.6" text-anchor="end" fill="#222222" >10</text>
<line x1="304.20" y1="273.30" x2="306.30" y2="273.30" stroke="#3a3a3a" stroke-width="0.9" />
<text x="301.00" y="276.30" font-size="8.6" text-anchor="end" fill="#222222" >5</text>
<line x1="304.20" y1="298.00" x2="306.30" y2="298.00" stroke="#3a3a3a" stroke-width="0.9" />
<text x="301.00" y="301.00" font-size="8.6" text-anchor="end" fill="#222222" >0</text>
<text transform="translate(284.9,249.3) rotate(-90)" font-size="8.6" text-anchor="middle" fill="#222222">MS intensity (%)</text>
<rect x="310.60" y="212.50" width="8.50" height="85.90" fill="#1e1e1e"/>
<line x1="314.85" y1="210.30" x2="314.85" y2="212.50" stroke="#1e1e1e" stroke-width="0.9" />
<line x1="312.10" y1="210.30" x2="317.60" y2="210.30" stroke="#1e1e1e" stroke-width="0.9" />
<line x1="312.10" y1="212.50" x2="317.60" y2="212.50" stroke="#1e1e1e" stroke-width="0.9" />
<rect x="323.40" y="233.10" width="8.40" height="65.30" fill="#ec282e"/>
<line x1="327.60" y1="231.20" x2="327.60" y2="233.10" stroke="#b01e24" stroke-width="0.9" />
<line x1="324.85" y1="231.20" x2="330.35" y2="231.20" stroke="#b01e24" stroke-width="0.9" />
<line x1="324.85" y1="233.10" x2="330.35" y2="233.10" stroke="#b01e24" stroke-width="0.9" />
<text x="327.60" y="229.20" font-size="9" text-anchor="middle" fill="#222222" >***</text>
<line x1="321.20" y1="298.40" x2="321.20" y2="300.90" stroke="#231f20" stroke-width="0.9" />
<text x="321.20" y="310.60" font-size="8.6" text-anchor="middle" fill="#222222" >M+6</text>
<rect x="344.60" y="261.50" width="8.50" height="36.90" fill="#1e1e1e"/>
<line x1="348.85" y1="260.10" x2="348.85" y2="261.50" stroke="#1e1e1e" stroke-width="0.9" />
<line x1="346.10" y1="260.10" x2="351.60" y2="260.10" stroke="#1e1e1e" stroke-width="0.9" />
<line x1="346.10" y1="261.50" x2="351.60" y2="261.50" stroke="#1e1e1e" stroke-width="0.9" />
<rect x="357.40" y="270.30" width="8.40" height="28.10" fill="#ec282e"/>
<line x1="361.60" y1="269.10" x2="361.60" y2="270.30" stroke="#b01e24" stroke-width="0.9" />
<line x1="358.85" y1="269.10" x2="364.35" y2="269.10" stroke="#b01e24" stroke-width="0.9" />
<line x1="358.85" y1="270.30" x2="364.35" y2="270.30" stroke="#b01e24" stroke-width="0.9" />
<text x="361.60" y="266.60" font-size="9" text-anchor="middle" fill="#222222" >**</text>
<line x1="355.20" y1="298.40" x2="355.20" y2="300.90" stroke="#231f20" stroke-width="0.9" />
<text x="355.20" y="310.60" font-size="8.6" text-anchor="middle" fill="#222222" >M+8</text>
<rect x="378.60" y="283.40" width="8.50" height="15.00" fill="#1e1e1e"/>
<line x1="382.85" y1="282.60" x2="382.85" y2="283.40" stroke="#1e1e1e" stroke-width="0.9" />
<line x1="380.10" y1="282.60" x2="385.60" y2="282.60" stroke="#1e1e1e" stroke-width="0.9" />
<line x1="380.10" y1="283.40" x2="385.60" y2="283.40" stroke="#1e1e1e" stroke-width="0.9" />
<rect x="391.40" y="286.80" width="8.40" height="11.60" fill="#ec282e"/>
<line x1="395.60" y1="285.90" x2="395.60" y2="286.80" stroke="#b01e24" stroke-width="0.9" />
<line x1="392.85" y1="285.90" x2="398.35" y2="285.90" stroke="#b01e24" stroke-width="0.9" />
<line x1="392.85" y1="286.80" x2="398.35" y2="286.80" stroke="#b01e24" stroke-width="0.9" />
<text x="395.60" y="286.50" font-size="9" text-anchor="middle" fill="#222222" >**</text>
<line x1="389.20" y1="298.40" x2="389.20" y2="300.90" stroke="#231f20" stroke-width="0.9" />
<text x="389.20" y="310.60" font-size="8.6" text-anchor="middle" fill="#222222" >M+10</text>
<rect x="412.60" y="271.10" width="8.50" height="27.30" fill="#1e1e1e"/>
<line x1="416.85" y1="270.00" x2="416.85" y2="271.10" stroke="#1e1e1e" stroke-width="0.9" />
<line x1="414.10" y1="270.00" x2="419.60" y2="270.00" stroke="#1e1e1e" stroke-width="0.9" />
<line x1="414.10" y1="271.10" x2="419.60" y2="271.10" stroke="#1e1e1e" stroke-width="0.9" />
<rect x="425.40" y="288.80" width="8.40" height="9.60" fill="#ec282e"/>
<line x1="429.60" y1="288.00" x2="429.60" y2="288.80" stroke="#b01e24" stroke-width="0.9" />
<line x1="426.85" y1="288.00" x2="432.35" y2="288.00" stroke="#b01e24" stroke-width="0.9" />
<line x1="426.85" y1="288.80" x2="432.35" y2="288.80" stroke="#b01e24" stroke-width="0.9" />
<text x="429.60" y="288.80" font-size="9" text-anchor="middle" fill="#222222" >***</text>
<line x1="423.20" y1="298.40" x2="423.20" y2="300.90" stroke="#231f20" stroke-width="0.9" />
<text x="423.20" y="310.60" font-size="8.6" text-anchor="middle" fill="#222222" >M+12</text>
<rect x="446.60" y="288.50" width="8.50" height="9.90" fill="#1e1e1e"/>
<line x1="450.85" y1="287.70" x2="450.85" y2="288.50" stroke="#1e1e1e" stroke-width="0.9" />
<line x1="448.10" y1="287.70" x2="453.60" y2="287.70" stroke="#1e1e1e" stroke-width="0.9" />
<line x1="448.10" y1="288.50" x2="453.60" y2="288.50" stroke="#1e1e1e" stroke-width="0.9" />
<rect x="459.40" y="295.90" width="8.40" height="2.50" fill="#ec282e"/>
<line x1="463.60" y1="295.30" x2="463.60" y2="295.90" stroke="#b01e24" stroke-width="0.9" />
<line x1="460.85" y1="295.30" x2="466.35" y2="295.30" stroke="#b01e24" stroke-width="0.9" />
<line x1="460.85" y1="295.90" x2="466.35" y2="295.90" stroke="#b01e24" stroke-width="0.9" />
<text x="463.60" y="294.40" font-size="9" text-anchor="middle" fill="#222222" >***</text>
<line x1="457.20" y1="298.40" x2="457.20" y2="300.90" stroke="#231f20" stroke-width="0.9" />
<text x="457.20" y="310.60" font-size="8.6" text-anchor="middle" fill="#222222" >M+14</text>
<rect x="480.60" y="294.50" width="8.50" height="3.90" fill="#1e1e1e"/>
<line x1="484.85" y1="294.00" x2="484.85" y2="294.50" stroke="#1e1e1e" stroke-width="0.9" />
<line x1="482.10" y1="294.00" x2="487.60" y2="294.00" stroke="#1e1e1e" stroke-width="0.9" />
<line x1="482.10" y1="294.50" x2="487.60" y2="294.50" stroke="#1e1e1e" stroke-width="0.9" />
<rect x="493.40" y="297.20" width="8.40" height="1.20" fill="#ec282e"/>
<line x1="497.60" y1="296.90" x2="497.60" y2="297.20" stroke="#b01e24" stroke-width="0.9" />
<line x1="494.85" y1="296.90" x2="500.35" y2="296.90" stroke="#b01e24" stroke-width="0.9" />
<line x1="494.85" y1="297.20" x2="500.35" y2="297.20" stroke="#b01e24" stroke-width="0.9" />
<text x="497.60" y="298.70" font-size="9" text-anchor="middle" fill="#222222" >***</text>
<line x1="491.20" y1="298.40" x2="491.20" y2="300.90" stroke="#231f20" stroke-width="0.9" />
<text x="491.20" y="310.60" font-size="8.6" text-anchor="middle" fill="#222222" >M+16</text>
<line x1="304.20" y1="298.40" x2="506.60" y2="298.40" stroke="#231f20" stroke-width="1.0" />
<text x="406.00" y="323.10" font-size="8.6" text-anchor="middle" fill="#222222" >Isotopologs of PC 34:1</text>
<rect x="461.00" y="222.40" width="8.90" height="5.40" fill="#1e1e1e"/>
<text x="472.90" y="228.10" font-size="8.6" text-anchor="start" fill="#222222" >Monoculture</text>
<rect x="461.00" y="234.90" width="8.90" height="5.70" fill="#ec282e"/>
<text x="472.90" y="240.90" font-size="8.6" text-anchor="start" fill="#222222" >Coculture</text>
</svg>
</body></html>
